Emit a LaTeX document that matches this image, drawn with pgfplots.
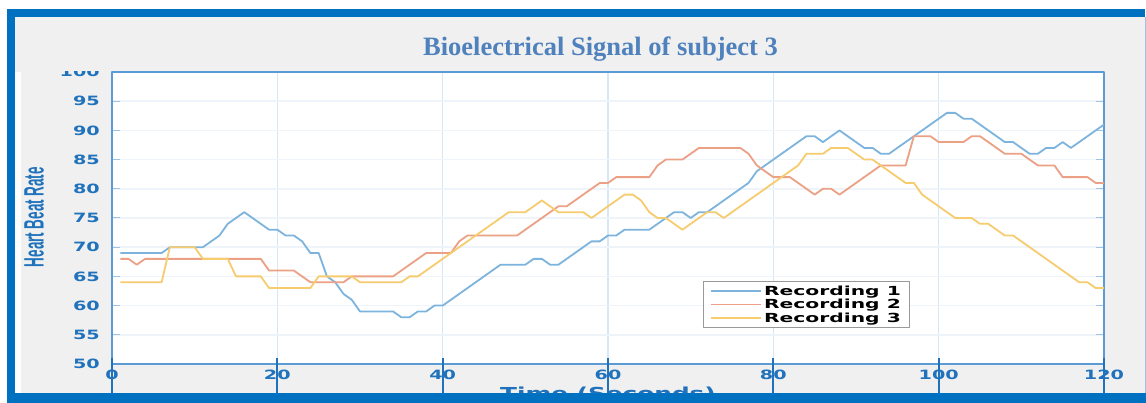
\documentclass[border=0pt]{standalone}
\usepackage{fontspec}
\usepackage{pgfplots}
\pgfplotsset{compat=1.18}
\newfontfamily\dvs{DejaVu Sans}
\newfontfamily\lsans{Liberation Sans}
\newfontfamily\lserif{Liberation Serif}
\definecolor{frameblue}{HTML}{0070C0}
\definecolor{bggrey}{HTML}{F0F0F0}
\definecolor{titleblue}{HTML}{4F81BD}
\definecolor{tickblue}{HTML}{1F72BB}
\definecolor{axisblue}{HTML}{5B9BD5}
\definecolor{xaxisline}{HTML}{B3D1EC}
\definecolor{xgrid}{HTML}{D6E7F5}
\definecolor{ygrid}{HTML}{EEF4FA}
\definecolor{cA}{HTML}{7DB4DE}
\definecolor{cB}{HTML}{ECA085}
\definecolor{cC}{HTML}{F6CC6E}
\begin{document}
\begin{tikzpicture}[x=1pt,y=1pt]
\path[use as bounding box] (0,0) rectangle (1146,403);
\fill[white] (0,0) rectangle (1146,403);
\fill[bggrey] (15,10) rectangle (1146,386);
\fill[white] (15,10) rectangle (21,331);
\draw[axisblue!60, line width=1pt] (1145,10) -- (1145,386);
\begin{axis}[
  at={(112pt,39pt)}, anchor=south west,
  scale only axis, width=992pt, height=292pt,
  xmin=0, xmax=120, ymin=50, ymax=100,
  xtick={0,20,...,120}, ytick={50,55,...,100},
  axis background/.style={fill=white},
  xmajorgrids, ymajorgrids,
  x grid style={xgrid, line width=1.2pt},
  y grid style={ygrid, line width=1.5pt},
  x axis line style={xaxisline, line width=1pt},
  y axis line style={axisblue, line width=1.6pt},
  major tick length=8pt,
  xtick pos=left,
  xtick style={draw=none},
  ytick style={axisblue!60, line width=1pt},
  xticklabel={\scalebox{1.5}[1]{\pgfmathprintnumber[assume math mode=true]{\tick}}},
  yticklabel={\scalebox{1.5}[1]{\pgfmathprintnumber[assume math mode=true]{\tick}}},
  xticklabel style={font=\dvs\bfseries\fontsize{12.8}{14}\selectfont, text=tickblue, anchor=center, inner sep=0pt, yshift=-11pt},
  yticklabel style={font=\dvs\bfseries\fontsize{12.8}{14}\selectfont, text=tickblue, anchor=east, inner sep=0pt, xshift=-12pt},
  xlabel={\scalebox{1.5}[1]{Time (Seconds)}},
  xlabel style={at={(axis description cs:0.5,0)}, anchor=north, inner sep=0pt, yshift=-23pt, font=\dvs\bfseries\fontsize{16.5}{18}\selectfont, text=tickblue},
  ylabel={\scalebox{0.48}[1]{Heart Beat Rate}},
  ylabel style={at={(axis description cs:-0.0786,0.503)}, anchor=center, inner sep=0pt, font=\lsans\bfseries\fontsize{28}{30}\selectfont, text=tickblue},
  legend style={at={(rel axis cs:0.5958,0.2842)}, anchor=north west, draw=gray!80, line width=1pt, fill=white, font=\dvs\bfseries\fontsize{12.5}{14}\selectfont, text=black, inner xsep=7pt, inner ysep=2pt, row sep=-1.5pt},
  legend cell align=left,
  legend image code/.code={\draw[#1, line width=1.6pt] (0pt,0pt) -- (50pt,0pt);},
  line join=round,
]
\addplot[cA, line width=1.8pt] coordinates {
(1,69)(2,69)(3,69)(4,69)(5,69)(6,69)(7,70)(8,70)(9,70)(10,70)
(11,70)(12,71)(13,72)(14,74)(15,75)(16,76)(17,75)(18,74)(19,73)(20,73)
(21,72)(22,72)(23,71)(24,69)(25,69)(26,65)(27,64)(28,62)(29,61)(30,59)
(31,59)(32,59)(33,59)(34,59)(35,58)(36,58)(37,59)(38,59)(39,60)(40,60)
(41,61)(42,62)(43,63)(44,64)(45,65)(46,66)(47,67)(48,67)(49,67)(50,67)
(51,68)(52,68)(53,67)(54,67)(55,68)(56,69)(57,70)(58,71)(59,71)(60,72)
(61,72)(62,73)(63,73)(64,73)(65,73)(66,74)(67,75)(68,76)(69,76)(70,75)
(71,76)(72,76)(73,77)(74,78)(75,79)(76,80)(77,81)(78,83)(79,84)(80,85)
(81,86)(82,87)(83,88)(84,89)(85,89)(86,88)(87,89)(88,90)(89,89)(90,88)
(91,87)(92,87)(93,86)(94,86)(95,87)(96,88)(97,89)(98,90)(99,91)(100,92)
(101,93)(102,93)(103,92)(104,92)(105,91)(106,90)(107,89)(108,88)(109,88)(110,87)
(111,86)(112,86)(113,87)(114,87)(115,88)(116,87)(117,88)(118,89)(119,90)(120,91)
};
\addlegendentry{\scalebox{1.62}[1]{Recording 1}}
\addplot[cB, line width=1.8pt] coordinates {
(1,68)(2,68)(3,67)(4,68)(5,68)(6,68)(7,68)(8,68)(9,68)(10,68)
(11,68)(12,68)(13,68)(14,68)(15,68)(16,68)(17,68)(18,68)(19,66)(20,66)
(21,66)(22,66)(23,65)(24,64)(25,64)(26,64)(27,64)(28,64)(29,65)(30,65)
(31,65)(32,65)(33,65)(34,65)(35,66)(36,67)(37,68)(38,69)(39,69)(40,69)
(41,69)(42,71)(43,72)(44,72)(45,72)(46,72)(47,72)(48,72)(49,72)(50,73)
(51,74)(52,75)(53,76)(54,77)(55,77)(56,78)(57,79)(58,80)(59,81)(60,81)
(61,82)(62,82)(63,82)(64,82)(65,82)(66,84)(67,85)(68,85)(69,85)(70,86)
(71,87)(72,87)(73,87)(74,87)(75,87)(76,87)(77,86)(78,84)(79,83)(80,82)
(81,82)(82,82)(83,81)(84,80)(85,79)(86,80)(87,80)(88,79)(89,80)(90,81)
(91,82)(92,83)(93,84)(94,84)(95,84)(96,84)(97,89)(98,89)(99,89)(100,88)
(101,88)(102,88)(103,88)(104,89)(105,89)(106,88)(107,87)(108,86)(109,86)(110,86)
(111,85)(112,84)(113,84)(114,84)(115,82)(116,82)(117,82)(118,82)(119,81)(120,81)
};
\addlegendentry{\scalebox{1.62}[1]{Recording 2}}
\addplot[cC, line width=1.8pt] coordinates {
(1,64)(2,64)(3,64)(4,64)(5,64)(6,64)(7,70)(8,70)(9,70)(10,70)
(11,68)(12,68)(13,68)(14,68)(15,65)(16,65)(17,65)(18,65)(19,63)(20,63)
(21,63)(22,63)(23,63)(24,63)(25,65)(26,65)(27,65)(28,65)(29,65)(30,64)
(31,64)(32,64)(33,64)(34,64)(35,64)(36,65)(37,65)(38,66)(39,67)(40,68)
(41,69)(42,70)(43,71)(44,72)(45,73)(46,74)(47,75)(48,76)(49,76)(50,76)
(51,77)(52,78)(53,77)(54,76)(55,76)(56,76)(57,76)(58,75)(59,76)(60,77)
(61,78)(62,79)(63,79)(64,78)(65,76)(66,75)(67,75)(68,74)(69,73)(70,74)
(71,75)(72,76)(73,76)(74,75)(75,76)(76,77)(77,78)(78,79)(79,80)(80,81)
(81,82)(82,83)(83,84)(84,86)(85,86)(86,86)(87,87)(88,87)(89,87)(90,86)
(91,85)(92,85)(93,84)(94,83)(95,82)(96,81)(97,81)(98,79)(99,78)(100,77)
(101,76)(102,75)(103,75)(104,75)(105,74)(106,74)(107,73)(108,72)(109,72)(110,71)
(111,70)(112,69)(113,68)(114,67)(115,66)(116,65)(117,64)(118,64)(119,63)(120,63)
};
\addlegendentry{\scalebox{1.62}[1]{Recording 3}}
\end{axis}
\draw[tickblue, line width=2.2pt] (112,45) -- (112,9);
\draw[tickblue, line width=2.2pt] (277.33,45) -- (277.33,9);
\draw[tickblue, line width=2.2pt] (442.67,45) -- (442.67,9);
\draw[tickblue, line width=2.2pt] (608,45) -- (608,9);
\draw[tickblue, line width=2.2pt] (773.33,45) -- (773.33,9);
\draw[tickblue, line width=2.2pt] (938.67,45) -- (938.67,9);
\draw[tickblue, line width=2.2pt] (1104,45) -- (1104,9);
\fill[bggrey] (15,331.5) rectangle (1145,386);
\fill[frameblue] (7,386) rectangle (1145,394);
\fill[frameblue] (7,0) rectangle (15,394);
\fill[frameblue] (7,0) rectangle (1146,10);
\node[anchor=base, text=titleblue, font=\lserif\bfseries\fontsize{26.5}{30}\selectfont, inner sep=0pt] at (600.5,347.5) {Bioelectrical Signal of subject 3};
\end{tikzpicture}
\end{document}
